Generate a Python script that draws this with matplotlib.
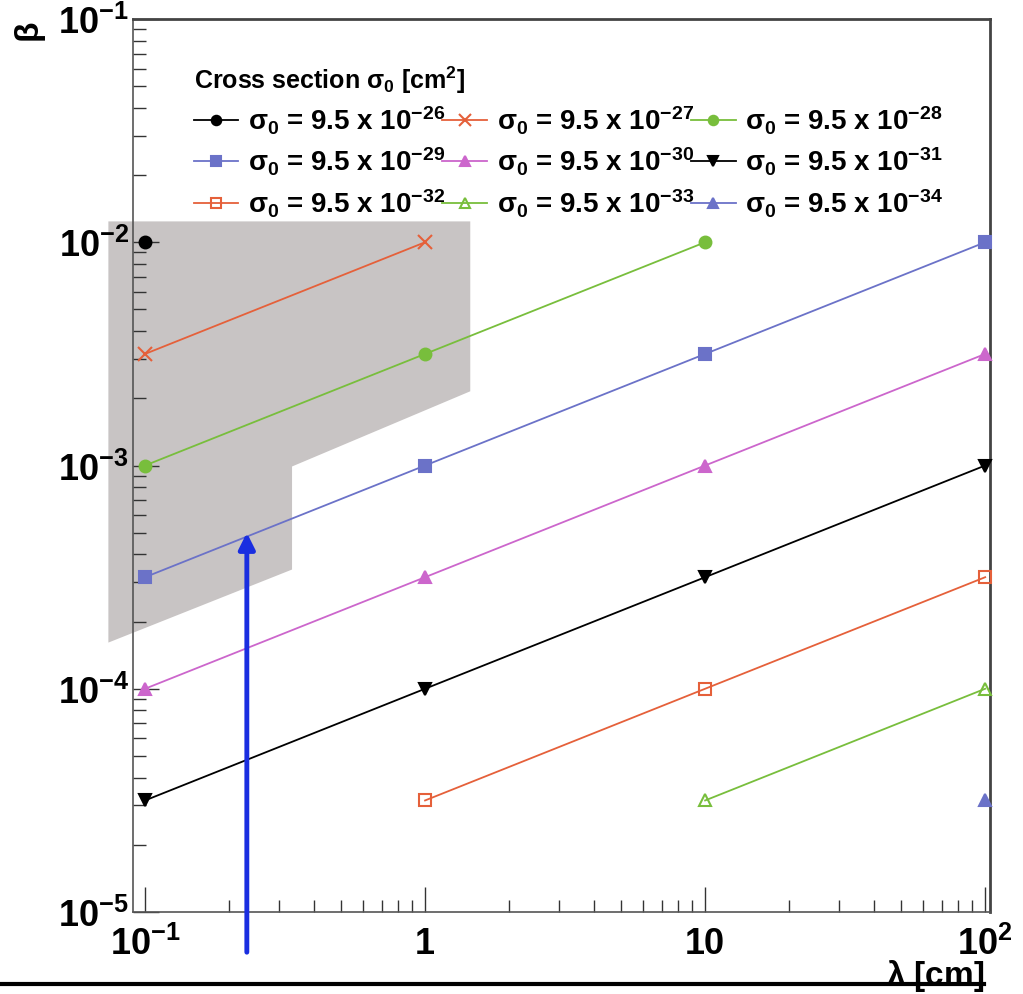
import matplotlib
matplotlib.use("Agg")
import matplotlib.pyplot as plt
from matplotlib.lines import Line2D
from matplotlib.ticker import LogLocator, FixedLocator, FuncFormatter
import numpy as np

plt.rcParams['font.family'] = ['Liberation Sans', 'DejaVu Sans']
plt.rcParams['font.weight'] = 'bold'
plt.rcParams['mathtext.fontset'] = 'custom'
plt.rcParams['mathtext.rm'] = 'Liberation Sans:bold'
plt.rcParams['mathtext.bf'] = 'Liberation Sans:bold'
plt.rcParams['mathtext.it'] = 'Liberation Serif:italic'
plt.rcParams['mathtext.default'] = 'bf'

# Data: beta vs lambda for each cross section
exponents = [26, 27, 28, 29, 30, 31, 32, 33, 34]
lam_26 = [0.1]
beta_26 = [1e-2]
lam_27 = [0.1, 1]
beta_27 = [3.16e-3, 1e-2]
lam_28 = [0.1, 1, 10]
beta_28 = [1e-3, 3.16e-3, 1e-2]
lam_29 = [0.1, 1, 10, 100]
beta_29 = [3.16e-4, 1e-3, 3.16e-3, 1e-2]
lam_30 = [0.1, 1, 10, 100]
beta_30 = [1e-4, 3.16e-4, 1e-3, 3.16e-3]
lam_31 = [0.1, 1, 10, 100]
beta_31 = [3.16e-5, 1e-4, 3.16e-4, 1e-3]
lam_32 = [1, 10, 100]
beta_32 = [3.16e-5, 1e-4, 3.16e-4]
lam_33 = [10, 100]
beta_33 = [3.16e-5, 1e-4]
lam_34 = [100]
beta_34 = [3.16e-5]

# shaded (excluded) region outline
shade_lam = [0.074, 1.45, 1.45, 0.335, 0.335, 0.074]
shade_beta = [0.0124, 0.0124, 0.00215, 0.00099, 0.000342, 0.000161]

# arrow
arrow_lam = 0.231
arrow_beta = 5.0e-4

orange = '#e5603a'
green = '#78be3c'
blue = '#6b72c8'
pink = '#cc66cc'

series = [
    (lam_26, beta_26, 'black', 'o', 'full'),
    (lam_27, beta_27, orange, 'x', 'full'),
    (lam_28, beta_28, green, 'o', 'full'),
    (lam_29, beta_29, blue, 's', 'full'),
    (lam_30, beta_30, pink, '^', 'full'),
    (lam_31, beta_31, 'black', 'v', 'full'),
    (lam_32, beta_32, orange, 's', 'none'),
    (lam_33, beta_33, green, '^', 'none'),
    (lam_34, beta_34, blue, '^', 'full'),
]

fig = plt.figure(figsize=(10.23, 9.95), dpi=100)
ax = fig.add_axes([0.130, 0.0824, 0.8377, 0.8975])
ax.set_xscale('log')
ax.set_yscale('log')
ax.set_xlim(0.0906, 104)
ax.set_ylim(1e-5, 1e-1)

ax.fill(shade_lam, shade_beta, color='#c8c4c4', lw=0, clip_on=False, zorder=1)

handles = []
for (lx, by, col, mk, fs), e in zip(series, exponents):
    ms = 8.5 if mk != 'x' else 10
    h, = ax.plot(lx, by, color=col, marker=mk, fillstyle=fs, ms=ms, mew=1.5,
                 lw=1.3, clip_on=False, zorder=3,
                 label=r'$\sigma_0$ = 9.5 x 10$^{-%d}$' % e)
    handles.append(h)

# arrow from below the axis up to the blue line
ax.annotate('', xy=(arrow_lam, arrow_beta), xycoords='data',
            xytext=(arrow_lam, -0.045), textcoords=('data', 'axes fraction'),
            arrowprops=dict(arrowstyle='-|>', color='#1a2ee0', lw=3.5,
                            mutation_scale=24, shrinkA=0, shrinkB=0),
            annotation_clip=False, zorder=5)

# ticks
ax.tick_params(which='both', direction='in', top=False, right=False,
               width=1, color='#333333')
ax.tick_params(which='major', length=18, labelsize=26)
ax.tick_params(which='minor', length=9)
ax.tick_params(axis='y', which='major', length=19, pad=3)
ax.tick_params(axis='x', which='major', pad=10)
ax.xaxis.set_major_locator(FixedLocator([0.1, 1, 10, 100]))
ax.xaxis.set_minor_locator(LogLocator(base=10, subs=np.arange(2, 10)))
ax.yaxis.set_major_locator(FixedLocator([1e-5, 1e-4, 1e-3, 1e-2, 1e-1]))
ax.yaxis.set_minor_locator(LogLocator(base=10, subs=np.arange(2, 10)))

xlabels = {0.1: r'$10^{-1}$', 1: '1', 10: '10', 100: r'$10^{2}$'}
ax.xaxis.set_major_formatter(FuncFormatter(
    lambda v, p: xlabels.get(round(v, 3), '')))
ax.yaxis.set_major_formatter(FuncFormatter(
    lambda v, p: r'$10^{%d}$' % round(np.log10(v))))

for s in ['left', 'bottom']:
    ax.spines[s].set_color('#555555')
    ax.spines[s].set_linewidth(1.2)
for s in ['top', 'right']:
    ax.spines[s].set_color('#444444')
    ax.spines[s].set_linewidth(2)

# axis titles
fig.text(0.030, 0.968, r'$\beta$', fontsize=24, rotation=90,
         ha='center', va='center')
fig.text(0.962, 0.019, r'$\lambda$ [cm]', fontsize=24, ha='right', va='center')

# legend: fill row-wise in 3 columns
order = [0, 3, 6, 1, 4, 7, 2, 5, 8]
leg = ax.legend([handles[i] for i in order],
                [handles[i].get_label() for i in order],
                ncol=3, loc='upper left', bbox_to_anchor=(0.058, 0.963),
                frameon=False, fontsize=20, handlelength=1.6,
                handletextpad=0.35, columnspacing=-0.1, labelspacing=0.33,
                markerscale=0.8,
                title=r'Cross section $\sigma_0$ [cm$^{2}$]',
                title_fontsize=18, alignment='left', borderaxespad=0)
leg.get_title().set_fontweight('bold')

# page rule at the bottom
fig.add_artist(Line2D([0.0, 0.962], [0.010, 0.010], color='black', lw=3,
                      transform=fig.transFigure))

fig.savefig('out.png', dpi=100)
